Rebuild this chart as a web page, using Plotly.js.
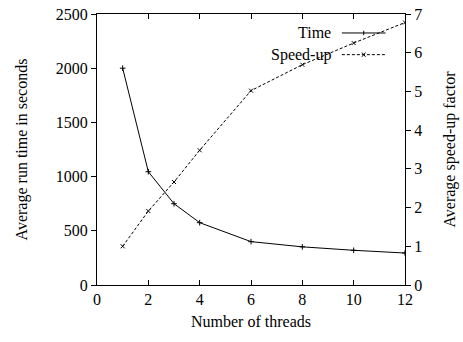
<!DOCTYPE html>
<html>
<head>
<meta charset="utf-8">
<script src="https://cdn.plot.ly/plotly-3.0.1.min.js"></script>
<style>html,body{margin:0;padding:0;background:#fff;}#chart{width:463px;height:342px;}</style>
</head>
<body>
<div id="chart"></div>
<script>
const threads = [1, 2, 3, 4, 6, 8, 10, 12];
const runTime = [2000, 1045, 750, 575, 400, 352, 320, 295];
const speedUp = [1.0, 1.91, 2.66, 3.48, 5.02, 5.69, 6.25, 6.78];
const xTicks = [0, 2, 4, 6, 8, 10, 12];
const timeTicks = [0, 500, 1000, 1500, 2000, 2500];
const speedTicks = [0, 1, 2, 3, 4, 5, 6, 7];
const seriesNames = ['Time', 'Speed-up'];

const font = {family: 'Liberation Serif, Times New Roman, serif', size: 16, color: '#000'};

const traces = [
  {x: threads, y: runTime, name: seriesNames[0], type: 'scatter', mode: 'lines+markers',
   line: {color: '#000', width: 1}, marker: {symbol: 'cross-thin', size: 4, line: {color: '#000', width: 1}},
   yaxis: 'y', showlegend: false},
  {x: threads, y: speedUp, name: seriesNames[1], type: 'scatter', mode: 'lines+markers',
   line: {color: '#000', width: 1, dash: '3px,2px'}, marker: {symbol: 'x-thin', size: 4, line: {color: '#000', width: 1}},
   yaxis: 'y2', showlegend: false}
];

// custom legend (text to the left of the sample, like the original)
const legX0 = 0.795, legX1 = 0.937, legXm = 0.866;
const legY = [0.93, 0.85];
const shapes = [];
const annotations = [];
seriesNames.forEach((n, i) => {
  annotations.push({xref: 'paper', yref: 'paper', x: legX0 - 0.03, y: legY[i], text: n, showarrow: false,
    xanchor: 'right', yanchor: 'middle', font: font});
  shapes.push({type: 'line', xref: 'paper', yref: 'paper', x0: legX0, x1: legX1, y0: legY[i], y1: legY[i],
    line: {color: '#000', width: 1, dash: i === 0 ? 'solid' : '3px,2px'}});
});
// legend marker glyphs
const dx = 0.006, dy = 0.008;
shapes.push({type: 'line', xref: 'paper', yref: 'paper', x0: legXm, x1: legXm, y0: legY[0] - dy, y1: legY[0] + dy, line: {color: '#000', width: 1}});
shapes.push({type: 'line', xref: 'paper', yref: 'paper', x0: legXm - dx, x1: legXm + dx, y0: legY[1] - dy, y1: legY[1] + dy, line: {color: '#000', width: 1}});
shapes.push({type: 'line', xref: 'paper', yref: 'paper', x0: legXm - dx, x1: legXm + dx, y0: legY[1] + dy, y1: legY[1] - dy, line: {color: '#000', width: 1}});

const layout = {
  width: 463, height: 342,
  margin: {l: 97, r: 58, t: 14, b: 57},
  paper_bgcolor: '#fff', plot_bgcolor: '#fff',
  font: font,
  showlegend: false,
  xaxis: {range: [0, 12], tickvals: xTicks, ticks: 'inside', ticklen: 5, tickcolor: '#000',
    showline: true, linecolor: '#000', linewidth: 1, mirror: 'ticks', showgrid: false, zeroline: false,
    title: {text: 'Number of threads', font: font, standoff: 8}, tickfont: font},
  yaxis: {range: [0, 2500], tickvals: timeTicks, ticks: 'outside', ticklen: 5, tickcolor: '#000',
    showline: true, linecolor: '#000', linewidth: 1, showgrid: false, zeroline: false,
    title: {text: 'Average run time in seconds', font: font, standoff: 24}, tickfont: font},
  yaxis2: {range: [0, 7], tickvals: speedTicks, ticks: 'outside', ticklen: 5, tickcolor: '#000',
    overlaying: 'y', side: 'right', showline: true, linecolor: '#000', linewidth: 1,
    showgrid: false, zeroline: false,
    title: {text: 'Average speed-up factor', font: font, standoff: 22}, tickfont: font},
  yaxis3: {range: [0, 2500], tickvals: timeTicks, ticks: 'inside', ticklen: 5, tickcolor: '#000',
    overlaying: 'y', side: 'right', showticklabels: false, showline: false, showgrid: false, zeroline: false},
  shapes: shapes,
  annotations: annotations
};

Plotly.newPlot('chart', traces, layout, {displayModeBar: false, staticPlot: true});
</script>
</body>
</html>
